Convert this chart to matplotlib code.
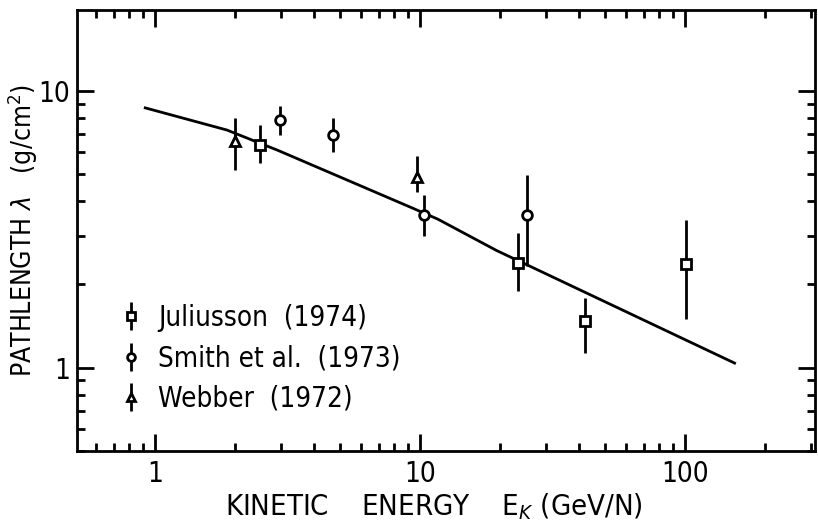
import matplotlib
matplotlib.use("Agg")
import matplotlib.pyplot as plt
import numpy as np

plt.rcParams['font.family'] = ['DejaVu Sans']
plt.rcParams['font.stretch'] = 'condensed'

# Juliusson (1974) - squares
jul_E = [2.5, 23.4, 41.9, 101]
jul_L = [6.4, 2.4, 1.48, 2.38]
jul_lo = [5.5, 1.9, 1.13, 1.5]
jul_hi = [7.5, 3.06, 1.79, 3.41]

# Smith et al. (1973) - circles
smi_E = [2.96, 4.7, 10.4, 25.3]
smi_L = [7.85, 6.9, 3.55, 3.55]
smi_lo = [6.9, 6.0, 3.0, 2.34]
smi_hi = [8.8, 8.0, 4.2, 4.96]

# Webber (1972) - triangles
web_E = [2.0, 9.75]
web_L = [6.6, 4.9]
web_lo = [5.2, 4.3]
web_hi = [8.0, 5.8]

# model curve
line_E = [0.92, 1.87, 2.91, 9.4, 11.7, 19.5, 26.7, 154]
line_L = [8.68, 7.22, 6.1, 3.77, 3.44, 2.65, 2.30, 1.04]

fig = plt.figure(figsize=(8.18, 5.21), dpi=100)
ax = fig.add_axes([0.094, 0.134, 0.902, 0.847])

ax.plot(line_E, line_L, color='black', lw=2)

def errs(v, lo, hi):
    v = np.array(v)
    return [v - np.array(lo), np.array(hi) - v]

sets = [
    (jul_E, jul_L, jul_lo, jul_hi, 's', 'Juliusson  (1974)'),
    (smi_E, smi_L, smi_lo, smi_hi, 'o', 'Smith et al.  (1973)'),
    (web_E, web_L, web_lo, web_hi, '^', 'Webber  (1972)'),
]
for E, L, lo, hi, m, lab in sets:
    ax.errorbar(E, L, yerr=errs(L, lo, hi), fmt=m, mfc='white', mec='black',
                ecolor='black', elinewidth=2, ms=7, mew=2, capsize=0, label=lab)

ax.set_xscale('log')
ax.set_yscale('log')
ax.set_xlim(0.508, 309)
ax.set_ylim(0.5, 19.6)

ax.set_xticks([1, 10, 100])
ax.set_xticklabels(['1', '10', '100'])
ax.set_yticks([1, 10])
ax.set_yticklabels(['1', '10'])

ax.tick_params(which='both', direction='in', top=True, right=True, width=2,
               labelsize=20)
ax.tick_params(axis='x', pad=6)
ax.tick_params(axis='y', pad=5)
ax.tick_params(which='major', length=12)
ax.tick_params(which='minor', length=6)
for s in ax.spines.values():
    s.set_linewidth(2)

ax.set_xlabel('KINETIC    ENERGY    E$_K$ (GeV/N)', fontsize=21)
ax.xaxis.set_label_coords(0.484, -0.09)
ax.set_ylabel('PATHLENGTH $\\lambda$   (g/cm$^2$)', fontsize=19)
ax.yaxis.set_label_coords(-0.05, 0.5)

ax.legend(loc='lower left', bbox_to_anchor=(0.02, 0.03), frameon=False,
          fontsize=20, handletextpad=0.5, labelspacing=0.45, markerscale=0.8,
          handlelength=1.0)

fig.savefig('out.png', dpi=100)
